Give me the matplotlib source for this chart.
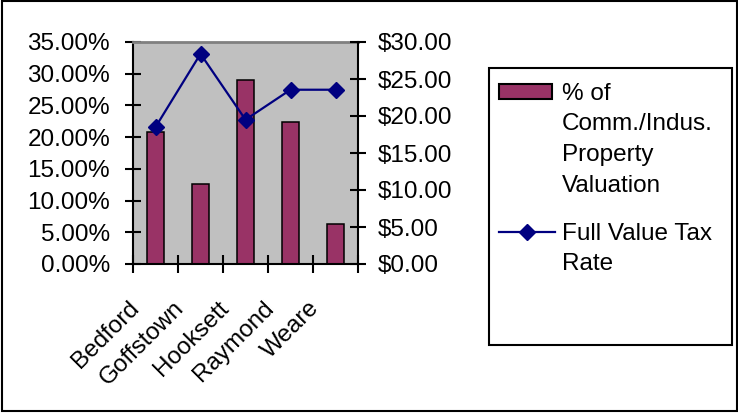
import matplotlib.pyplot as plt
from matplotlib.patches import Rectangle
from matplotlib.lines import Line2D
from matplotlib.ticker import FixedLocator, FuncFormatter
import matplotlib.transforms as mtrans

plt.rcParams['font.family'] = ['Liberation Sans', 'DejaVu Sans']

towns = ["Bedford", "Goffstown", "Hooksett", "Raymond", "Weare"]
comm_pct = [0.208, 0.126, 0.290, 0.224, 0.063]
tax_rate = [18.5, 28.4, 19.5, 23.55, 23.55]

BAR_COLOR = "#993366"
LINE_COLOR = "#000080"
FS = 17.5

W, H = 738, 413
fig = plt.figure(figsize=(W / 100, H / 100), dpi=100)


def fx(x):
    return x / W


def fy(y):
    return 1 - y / H


# plot area in pixel coords: left 133, right 358, top 42, bottom 264
ax = fig.add_axes([fx(133), fy(264), (358 - 133) / W, (264 - 42) / H])
ax.set_facecolor("#c0c0c0")
xs = list(range(len(towns)))
ax.bar(xs, comm_pct, width=0.37, color=BAR_COLOR, edgecolor="black", linewidth=1.1, zorder=2)
ax.set_xlim(-0.5, len(towns) - 0.5)
ax.set_ylim(0, 0.35)
ax.set_yticks([i * 0.05 for i in range(8)])
ax.yaxis.set_major_formatter(FuncFormatter(lambda v, p: f"{v * 100:.2f}%"))

# ticks between categories, labels at category centres
ax.xaxis.set_major_locator(FixedLocator([i - 0.5 for i in range(len(towns) + 1)]))
ax.xaxis.set_major_formatter(FuncFormatter(lambda v, p: ""))
ax.xaxis.set_minor_locator(FixedLocator(xs))
ax.set_xticklabels(towns, minor=True)
ax.tick_params(axis="x", which="major", direction="inout", length=13, width=1.5)
ax.tick_params(axis="x", which="minor", length=0, pad=24, labelsize=FS)
ax.tick_params(axis="y", direction="inout", length=12, width=1.5, pad=10.5, labelsize=FS)
offset = mtrans.ScaledTranslation(-0.28, 0, fig.dpi_scale_trans)
for lab in ax.get_xticklabels(minor=True):
    lab.set_rotation(45)
    lab.set_ha("right")
    lab.set_va("top")
    lab.set_rotation_mode("anchor")
    lab.set_transform(lab.get_transform() + offset)

for s in ("left", "bottom"):
    ax.spines[s].set_linewidth(1.5)
ax.spines["right"].set_visible(False)
ax.spines["top"].set_color("#808080")
ax.spines["top"].set_linewidth(2)

ax2 = ax.twinx()
ax2.plot(xs, tax_rate, color=LINE_COLOR, linewidth=1.6, marker="D", markersize=8.5,
         markerfacecolor=LINE_COLOR, markeredgecolor=LINE_COLOR, zorder=3)
ax2.set_ylim(0, 30)
ax2.set_yticks([i * 5 for i in range(7)])
ax2.yaxis.set_major_formatter(FuncFormatter(lambda v, p: f"${v:.2f}"))
ax2.tick_params(axis="y", direction="inout", length=12, width=1.5, pad=8.5, labelsize=FS)
for s in ("left", "top", "bottom"):
    ax2.spines[s].set_visible(False)
ax2.spines["right"].set_linewidth(1.5)

# outer chart border
fig.add_artist(Rectangle((fx(1.5), fy(411)), fx(735), 410 / H,
                         transform=fig.transFigure, fill=False, edgecolor="black", linewidth=1.5))

# legend box
fig.add_artist(Rectangle((fx(489), fy(345)), fx(732 - 489), (345 - 68) / H,
                         transform=fig.transFigure, fill=False, edgecolor="black", linewidth=1.5))
fig.add_artist(Rectangle((fx(499), fy(99)), fx(552 - 499), 15 / H, transform=fig.transFigure,
                         facecolor=BAR_COLOR, edgecolor="black", linewidth=1.5))
fig.add_artist(Line2D([fx(499), fx(555)], [fy(232), fy(232)], transform=fig.transFigure,
                      color=LINE_COLOR, linewidth=1.6))
fig.add_artist(Line2D([fx(527)], [fy(232)], transform=fig.transFigure, marker="D",
                      markersize=8.5, color=LINE_COLOR))
fig.text(fx(562), fy(83), "% of\nComm./Indus.\nProperty\nValuation", fontsize=FS,
         va="top", ha="left", linespacing=1.5)
fig.text(fx(562), fy(223), "Full Value Tax\nRate", fontsize=FS, va="top", ha="left",
         linespacing=1.45)

fig.savefig("out.png", dpi=100)
